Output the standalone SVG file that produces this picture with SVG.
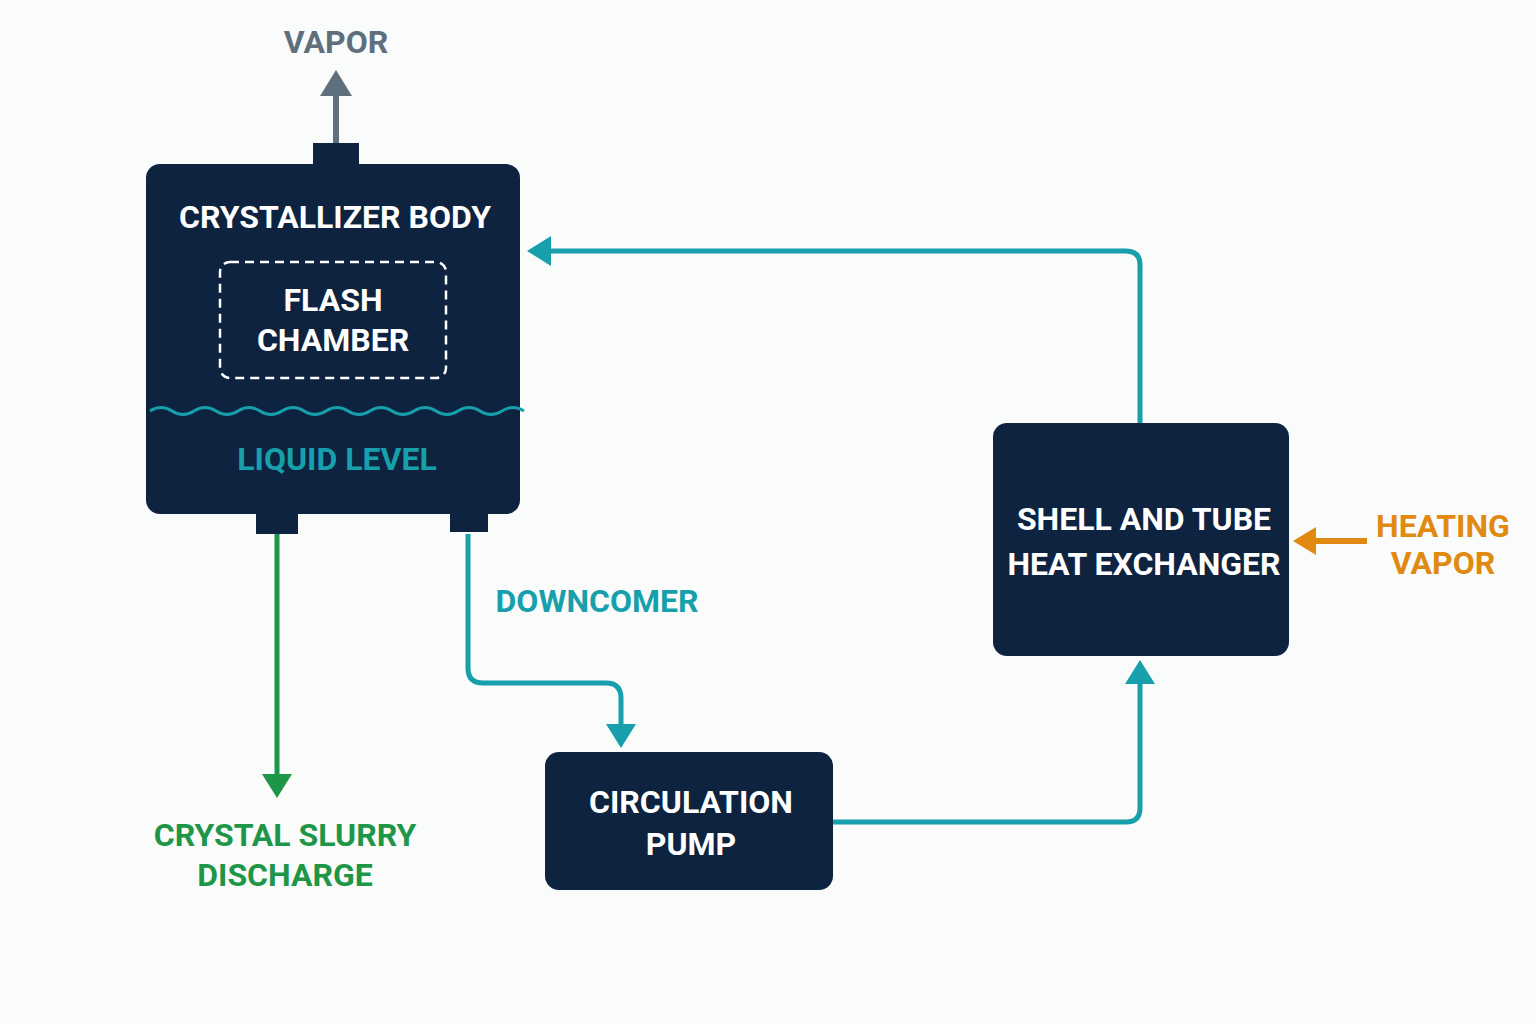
<svg xmlns="http://www.w3.org/2000/svg" width="1536" height="1024" viewBox="0 0 1536 1024">
<style>
.box{fill:#0d2340}
.t{font-family:"Liberation Sans Narrow","Roboto","Liberation Sans",sans-serif;font-weight:bold;text-anchor:middle}
.w{fill:#fff;font-size:32px}
.flow{fill:none;stroke:#17a0ac;stroke-width:5}
</style>
<defs>
<marker id="ht" markerWidth="8" markerHeight="8" refX="2" refY="4" orient="auto" markerUnits="userSpaceOnUse" viewBox="0 0 8 8"><path d="M0,0L8,4L0,8z" fill="#17a0ac"/></marker>
</defs>
<rect width="1536" height="1024" fill="#fafbfb"/>
<g id="connectors">
<line x1="336" y1="143" x2="336" y2="95" stroke="#5f6f7e" stroke-width="6"/>
<path d="M320,96L336,70L352,96z" fill="#5f6f7e"/>
<line x1="277" y1="534" x2="277" y2="775" stroke="#1e9648" stroke-width="5"/>
<path d="M262,774L277,798L292,774z" fill="#1e9648"/>
<path class="flow" d="M468,534V668Q468,683 483,683H606Q621,683 621,698V726"/>
<path d="M606,724L621,748L636,724z" fill="#17a0ac"/>
<path class="flow" d="M833,822H1126Q1140,822 1140,808V683"/>
<path d="M1125,684L1140,660L1155,684z" fill="#17a0ac"/>
<path class="flow" d="M1140,423V265Q1140,251 1126,251H550"/>
<path d="M551,236L527,251L551,266z" fill="#17a0ac"/>
<line x1="1367" y1="541" x2="1314" y2="541" stroke="#e08a12" stroke-width="6"/>
<path d="M1316,527L1293,541L1316,555z" fill="#e08a12"/>
</g>
<text class="t" x="336" y="53" font-size="32" fill="#5f6f7e">VAPOR</text>
<g id="crystallizer">
<rect class="box" x="313" y="143" width="46" height="24"/>
<rect class="box" x="256" y="508" width="42" height="26"/>
<rect class="box" x="450" y="508" width="38" height="24"/>
<rect class="box" x="146" y="164" width="374" height="350" rx="14"/>
<text class="t w" x="335" y="228">CRYSTALLIZER BODY</text>
<rect x="220" y="262" width="226" height="116" rx="10" fill="none" stroke="#fff" stroke-width="2.5" stroke-dasharray="9,6"/>
<text class="t w" x="333" y="311">FLASH</text>
<text class="t w" x="333" y="351">CHAMBER</text>
<path d="M150,411q11,-7 22,0t22,0t22,0t22,0t22,0t22,0t22,0t22,0t22,0t22,0t22,0t22,0t22,0t22,0t22,0t22,0t22,0" fill="none" stroke="#17a0ac" stroke-width="3"/>
<text class="t" x="337" y="470" font-size="32" fill="#17a0ac">LIQUID LEVEL</text>
</g>
<text class="t" x="285" y="846" font-size="32" fill="#1e9648">CRYSTAL SLURRY</text>
<text class="t" x="285" y="886" font-size="32" fill="#1e9648">DISCHARGE</text>
<text class="t" x="597" y="612" font-size="32" fill="#17a0ac">DOWNCOMER</text>
<g id="pump">
<rect class="box" x="545" y="752" width="288" height="138" rx="14"/>
<text class="t w" x="691" y="813">CIRCULATION</text>
<text class="t w" x="691" y="855">PUMP</text>
</g>
<g id="hx">
<rect class="box" x="993" y="423" width="296" height="233" rx="14"/>
<text class="t w" x="1144" y="530">SHELL AND TUBE</text>
<text class="t w" x="1144" y="575">HEAT EXCHANGER</text>
</g>
<text class="t" x="1443" y="537" font-size="32" fill="#e08a12">HEATING</text>
<text class="t" x="1443" y="574" font-size="32" fill="#e08a12">VAPOR</text>
</svg>
